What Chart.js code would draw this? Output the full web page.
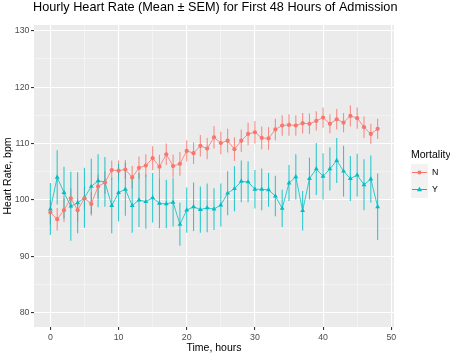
<!DOCTYPE html>
<html lang="en">
<head>
<meta charset="UTF-8">
<title>Hourly Heart Rate</title>
<script src="https://cdn.jsdelivr.net/npm/chart.js"></script>
<style>
    body { margin: 0; background: #ffffff; }
    canvas { display: block; }
</style>
</head>
<body>
<canvas id="hrChart" width="450" height="355"></canvas>
<script>
// data
const hours = [0,1,2,3,4,5,6,7,8,9,10,11,12,13,14,15,16,17,18,19,20,21,22,23,24,
               25,26,27,28,29,30,31,32,33,34,35,36,37,38,39,40,41,42,43,44,45,46,47,48];

// Mortality = N
const meanN = [97.8,96.6,98.2,100.3,98.2,100.3,99.3,102.4,103.1,105.3,105.2,105.4,104.0,105.7,106.1,
               107.4,105.9,108.1,106.0,106.4,108.7,108.3,109.6,109.1,111.1,110.1,110.5,109.0,110.5,111.7,
               112.0,111.0,110.9,112.5,113.2,113.3,113.2,113.6,113.5,114.0,114.6,113.5,114.3,113.7,114.9,
               114.5,112.9,111.7,112.6];
const semN = [2.2,2.0,2.1,1.8,2.0,2.0,2.1,2.1,2.0,1.7,1.8,1.7,2.0,2.0,2.0,2.1,2.1,1.9,2.0,2.1,1.9,1.9,
              1.9,1.9,2.0,2.0,2.1,2.1,2.0,2.0,2.0,2.0,2.0,1.9,1.8,1.9,1.8,1.8,1.8,1.7,1.8,1.7,1.8,1.7,
              1.9,1.9,1.9,1.8,1.8];

// Mortality = Y
const meanY = [98.4,104.0,101.3,98.9,99.5,100.4,102.4,103.4,103.2,99.0,101.3,101.9,99.0,100.0,99.7,
               100.4,99.4,99.3,99.6,95.7,98.2,98.8,98.3,98.6,98.4,99.1,101.2,102.0,103.3,103.2,
               101.9,101.9,101.8,100.7,98.5,103.0,104.1,98.1,103.8,105.5,104.2,105.5,107.0,105.1,103.8,
               104.4,102.7,103.7,98.8];
const semY = [4.6,4.8,4.6,6.1,5.4,5.3,4.9,4.7,4.4,4.9,5.1,4.7,4.8,4.8,4.8,4.4,4.4,4.3,4.3,3.8,4.0,4.3,
              4.1,4.3,3.7,3.8,3.9,4.0,3.7,3.6,3.4,3.7,3.0,3.6,3.3,3.2,4.0,3.5,3.7,4.6,4.1,3.8,4.0,4.5,
              4.0,3.8,4.5,4.2,5.9];

const xTicks = [0,10,20,30,40,50];
const yTicks = [80,90,100,110,120,130];

const colN = '#F8766D';
const colY = '#00BFC4';
const fontFam = '"Liberation Sans", Arial, sans-serif';

Chart.defaults.font.family = fontFam;

// grey panel behind the grid
const panelBg = {
    id: 'panelBg',
    beforeDraw(chart) {
        const a = chart.chartArea, ctx = chart.ctx;
        ctx.save();
        ctx.fillStyle = '#EBEBEB';
        ctx.fillRect(a.left, a.top, a.right - a.left, a.bottom - a.top);
        ctx.restore();
    }
};

// vertical error bars (mean +/- SEM), drawn under lines and points
const errorBars = {
    id: 'errorBars',
    beforeDatasetsDraw(chart) {
        const ctx = chart.ctx, xs = chart.scales.x, ys = chart.scales.y;
        const sets = [[meanN, semN, 'rgba(248,118,109,0.8)'], [meanY, semY, 'rgba(0,191,196,0.8)']];
        ctx.save();
        ctx.lineWidth = 1.1;
        sets.forEach(([m, s, c]) => {
            ctx.strokeStyle = c;
            hours.forEach((h, i) => {
                const x = xs.getPixelForValue(h);
                ctx.beginPath();
                ctx.moveTo(x, ys.getPixelForValue(m[i] + s[i]));
                ctx.lineTo(x, ys.getPixelForValue(m[i] - s[i]));
                ctx.stroke();
            });
        });
        ctx.restore();
    }
};

// title + ggplot style legend
const decor = {
    id: 'decor',
    afterDraw(chart) {
        const ctx = chart.ctx;
        ctx.save();
        ctx.fillStyle = '#000';
        ctx.textAlign = 'left';
        ctx.textBaseline = 'alphabetic';
        ctx.font = '12.7px ' + fontFam;
        ctx.fillText('Hourly Heart Rate (Mean \u00B1 SEM) for First 48 Hours of Admission', 33, 11);

        ctx.font = '10.5px ' + fontFam;
        ctx.textBaseline = 'middle';
        ctx.fillText('Mortality', 411, 155);

        ctx.fillStyle = '#F2F2F2';
        ctx.fillRect(411, 164, 17, 34);

        // N key
        ctx.strokeStyle = colN;
        ctx.lineWidth = 1;
        ctx.beginPath(); ctx.moveTo(412, 172.5); ctx.lineTo(427, 172.5); ctx.stroke();
        ctx.fillStyle = colN;
        ctx.beginPath(); ctx.arc(419.5, 172.5, 2.1, 0, Math.PI * 2); ctx.fill();
        // Y key
        ctx.strokeStyle = colY;
        ctx.beginPath(); ctx.moveTo(412, 189.5); ctx.lineTo(427, 189.5); ctx.stroke();
        ctx.fillStyle = colY;
        ctx.beginPath();
        ctx.moveTo(419.5, 186.7); ctx.lineTo(422.1, 191.2); ctx.lineTo(416.9, 191.2);
        ctx.closePath(); ctx.fill();

        ctx.fillStyle = '#000';
        ctx.font = '8.8px ' + fontFam;
        ctx.fillText('N', 432, 172.5);
        ctx.fillText('Y', 432, 189.5);
        ctx.restore();
    }
};

const isMajorX = v => xTicks.includes(v);
const isMajorY = v => yTicks.includes(v);

new Chart(document.getElementById('hrChart'), {
    type: 'line',
    data: {
        datasets: [
            {
                label: 'N',
                data: hours.map((h, i) => ({ x: h, y: meanN[i] })),
                borderColor: colN,
                backgroundColor: colN,
                borderWidth: 0.8,
                pointRadius: 2.1,
                pointBorderWidth: 0,
                pointStyle: 'circle',
                tension: 0
            },
            {
                label: 'Y',
                data: hours.map((h, i) => ({ x: h, y: meanY[i] })),
                borderColor: colY,
                backgroundColor: colY,
                borderWidth: 0.8,
                pointRadius: 2.8,
                pointBorderWidth: 0,
                pointStyle: 'triangle',
                tension: 0
            }
        ]
    },
    options: {
        responsive: false,
        animation: false,
        layout: { padding: { top: 25, right: 56, left: 0, bottom: 0 } },
        plugins: {
            legend: { display: false },
            title: { display: false },
            tooltip: { enabled: false }
        },
        scales: {
            x: {
                type: 'linear',
                min: -2.4,
                max: 50.4,
                afterFit: s => { s.height = 28; },
                border: { display: false },
                grid: {
                    color: ctx => isMajorX(ctx.tick && ctx.tick.value) ? '#FFFFFF' : 'rgba(255,255,255,0.7)',
                    lineWidth: ctx => isMajorX(ctx.tick && ctx.tick.value) ? 1.1 : 0.6,
                    tickColor: ctx => isMajorX(ctx.tick && ctx.tick.value) ? '#333333' : 'rgba(0,0,0,0)',
                    tickLength: 3
                },
                ticks: {
                    stepSize: 5,
                    includeBounds: false,
                    maxRotation: 0,
                    autoSkip: false,
                    padding: 2,
                    color: '#4D4D4D',
                    font: { size: 8.8 },
                    callback: v => isMajorX(v) ? v : ''
                },
                title: {
                    display: true,
                    text: 'Time, hours',
                    color: '#000',
                    font: { size: 10.5 },
                    padding: { top: 0, bottom: 1 }
                }
            },
            y: {
                min: 77.5,
                max: 131,
                afterFit: s => { s.width = 34; },
                border: { display: false },
                grid: {
                    color: ctx => isMajorY(ctx.tick && ctx.tick.value) ? '#FFFFFF' : 'rgba(255,255,255,0.7)',
                    lineWidth: ctx => isMajorY(ctx.tick && ctx.tick.value) ? 1.1 : 0.6,
                    tickColor: ctx => isMajorY(ctx.tick && ctx.tick.value) ? '#333333' : 'rgba(0,0,0,0)',
                    tickLength: 3
                },
                ticks: {
                    stepSize: 5,
                    includeBounds: false,
                    autoSkip: false,
                    padding: 1.5,
                    color: '#4D4D4D',
                    font: { size: 8.8 },
                    callback: v => isMajorY(v) ? v : ''
                },
                title: {
                    display: true,
                    text: 'Heart Rate, bpm',
                    color: '#000',
                    font: { size: 10.5 },
                    padding: { top: 2, bottom: 0 }
                }
            }
        }
    },
    plugins: [panelBg, errorBars, decor]
});
</script>
</body>
</html>
